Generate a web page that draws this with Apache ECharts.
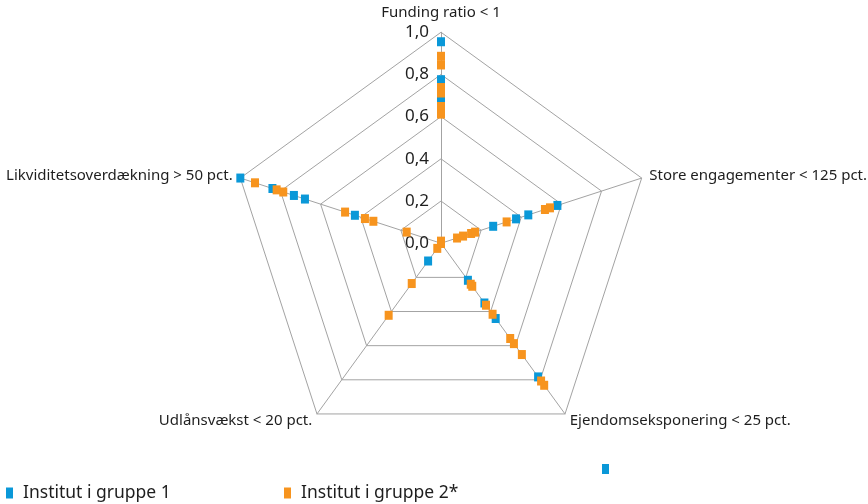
<!DOCTYPE html>
<html>
<head>
<meta charset="utf-8">
<script src="https://cdn.jsdelivr.net/npm/echarts@6/dist/echarts.min.js"></script>
<style>
  html, body { margin: 0; padding: 0; background: #ffffff; }
  #chart { width: 868px; height: 504px; }
</style>
</head>
<body>
<div id="chart"></div>
<script>
// Indicators in drawing order (counter-clockwise from the top)
const indicatorNames = [
  'Funding ratio < 1',
  'Likviditetsoverdækning > 50 pct.',
  'Udlånsvækst < 20 pct.',
  'Ejendomseksponering < 25 pct.',
  'Store engagementer < 125 pct.'
];
const tickValues = [0, 0.2, 0.4, 0.6, 0.8, 1.0];

const seriesNames = ['Institut i gruppe 1', 'Institut i gruppe 2*'];

// Group 1 observations, one list per indicator
const fundingG1 = [0.955, 0.775, 0.68];
const likvG1 = [1.0, 0.84, 0.733, 0.678, 0.429];
const udlanG1 = [0.104];
const ejendomG1 = [0.217, 0.35, 0.441, 0.783];
const storeG1 = [0.26, 0.374, 0.435, 0.58];

// Group 2 observations, one list per indicator
const fundingG2 = [0.886, 0.845, 0.738, 0.712, 0.648, 0.612, 0.01];
const likvG2 = [0.927, 0.819, 0.786, 0.478, 0.379, 0.337, 0.171];
const udlanG2 = [0.03, 0.236, 0.422];
const ejendomG2 = [0.24, 0.252, 0.363, 0.416, 0.558, 0.588, 0.652, 0.807, 0.832];
const storeG2 = [0.08, 0.11, 0.15, 0.17, 0.327, 0.518, 0.543];

const BLUE = '#0a98d8';
const ORANGE = '#f7941e';
const GRID = '#a3a3a3';
const TEXT = '#1e1e1e';
const FONT = '"Noto Sans", sans-serif';

// Each radar item holds at most one value per indicator; gaps are '-'
function toItems(lists) {
  const n = Math.max.apply(null, lists.map(l => l.length));
  const items = [];
  for (let k = 0; k < n; k++) {
    items.push({ value: lists.map(l => (k < l.length ? l[k] : '-')) });
  }
  return items;
}

const itemsG1 = toItems([fundingG1, likvG1, udlanG1, ejendomG1, storeG1]);
const itemsG2 = toItems([fundingG2, likvG2, udlanG2, ejendomG2, storeG2]);

const indicators = indicatorNames.map((name, i) => {
  const ind = { name: name, min: tickValues[0], max: tickValues[tickValues.length - 1] };
  if (i === 0) {
    ind.nameGap = 12;
    ind.nameTextStyle = { verticalAlign: 'bottom' };
    ind.axisLabel = {
      show: true,
      showMinLabel: true,
      showMaxLabel: true,
      margin: 12,
      fontSize: 17,
      color: TEXT,
      fontFamily: FONT,
      formatter: v => v.toFixed(1).replace('.', ',')
    };
  }
  return ind;
});

const chart = echarts.init(document.getElementById('chart'), null, { renderer: 'canvas' });

const pointSeries = (name, color, items) => ({
  name: name,
  type: 'radar',
  symbol: 'rect',
  symbolSize: [8, 9],
  itemStyle: { color: color },
  lineStyle: { width: 0, opacity: 0 },
  emphasis: { disabled: true },
  data: items
});

const legendText = { fontSize: 17.5, color: TEXT, fontFamily: FONT, padding: [0, 0, 0, 5] };

chart.setOption({
  animation: false,
  backgroundColor: '#ffffff',
  radar: {
    center: [441, 243.25],
    radius: 211,
    startAngle: 90,
    shape: 'polygon',
    splitNumber: tickValues.length - 1,
    nameGap: 8,
    axisName: {
      color: TEXT,
      fontSize: 15,
      fontFamily: FONT,
      verticalAlign: 'middle'
    },
    axisLine: { lineStyle: { color: GRID, width: 1 } },
    splitLine: { lineStyle: { color: GRID, width: 1 } },
    splitArea: { show: false },
    axisTick: { show: false },
    axisLabel: { show: false },
    indicator: indicators
  },
  legend: [
    {
      data: [seriesNames[0]],
      left: 1, top: 479,
      icon: 'rect', itemWidth: 7, itemHeight: 11, itemGap: 0,
      textStyle: legendText,
      selectedMode: false
    },
    {
      data: [seriesNames[1]],
      left: 279, top: 479,
      icon: 'rect', itemWidth: 7, itemHeight: 11,
      textStyle: legendText,
      selectedMode: false
    },
    {
      data: [' '],
      left: 597, top: 455,
      icon: 'rect', itemWidth: 7, itemHeight: 10,
      textStyle: legendText,
      selectedMode: false
    }
  ],
  series: [
    pointSeries(seriesNames[0], BLUE, itemsG1),
    pointSeries(seriesNames[1], ORANGE, itemsG2),
    { name: ' ', type: 'radar', itemStyle: { color: BLUE }, data: [] }
  ]
});
</script>
</body>
</html>
